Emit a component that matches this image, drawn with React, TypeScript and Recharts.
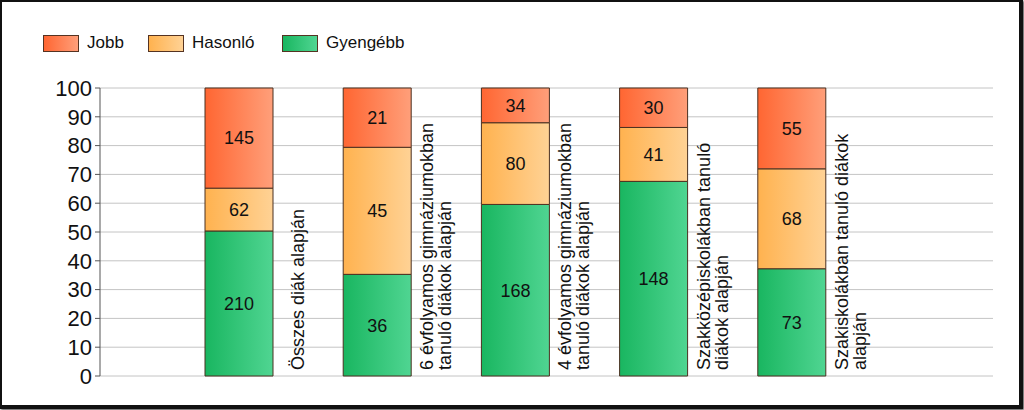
import { BarChart, Bar, XAxis, YAxis, CartesianGrid, LabelList } from 'recharts'

const categories = [
  ['Összes diák alapján'],
  ['6 évfolyamos gimnáziumokban', 'tanuló diákok alapján'],
  ['4 évfolyamos gimnáziumokban', 'tanuló diákok alapján'],
  ['Szakközépiskolákban tanuló', 'diákok alapján'],
  ['Szakiskolákban tanuló diákok', 'alapján'],
]
const jobb = [145, 21, 34, 30, 55]
const hasonlo = [62, 45, 80, 41, 68]
const gyengebb = [210, 36, 168, 148, 73]
const yTicks = [0, 10, 20, 30, 40, 50, 60, 70, 80, 90, 100]

const data = categories.map((lines, i) => {
  const total = jobb[i] + hasonlo[i] + gyengebb[i]
  return {
    name: lines.join(' '),
    lines,
    jobbN: jobb[i],
    hasonloN: hasonlo[i],
    gyengebbN: gyengebb[i],
    jobb: (jobb[i] / total) * 100,
    hasonlo: (hasonlo[i] / total) * 100,
    gyengebb: (gyengebb[i] / total) * 100,
  }
})

const series = [
  { key: 'jobb', label: 'Jobb', from: '#ff6632', to: '#ff9f7a' },
  { key: 'hasonlo', label: 'Hasonló', from: '#ffb24f', to: '#ffd295' },
  { key: 'gyengebb', label: 'Gyengébb', from: '#19b660', to: '#50d592' },
]

const font = '"Liberation Sans", Arial, sans-serif'

function CategoryLabel(props: any) {
  const { x, width, index } = props
  const lines: string[] = data[index].lines
  const cx = x + width / 2 + 59
  const lh = 18
  return (
    <g>
      {lines.map((l, i) => {
        const lx = cx + (i - (lines.length - 1) / 2) * lh
        return (
          <text key={i} x={lx} y={370} transform={`rotate(-90 ${lx} 370)`} textAnchor="start"
            dominantBaseline="central" fontSize={18} fill="#111" fontFamily={font}>
            {l}
          </text>
        )
      })}
    </g>
  )
}

function ChartLegend() {
  const pos = [43, 148, 282]
  return (
    <div style={{ position: 'absolute', left: 0, top: 33, height: 20, width: 400, zIndex: 1 }}>
      {series.map((s, i) => (
        <div key={s.key} style={{ position: 'absolute', left: pos[i], top: 0, display: 'flex', alignItems: 'center' }}>
          <div style={{ width: 34, height: 15, border: '1px solid #553322', background: `linear-gradient(to right, ${s.from}, ${s.to})` }} />
          <span style={{ marginLeft: 8, fontSize: 17, fontFamily: font, color: '#111' }}>{s.label}</span>
        </div>
      ))}
    </div>
  )
}

export default function App() {
  const stack = ['gyengebb', 'hasonlo', 'jobb']
  return (
    <div style={{ position: 'fixed', left: 0, top: 0, width: 1024, height: 410, background: '#fff' }}>
      <div style={{ position: 'absolute', left: 0, top: 0, width: 1017, height: 403, borderLeft: '2px solid #111', borderTop: '2px solid #111', borderRight: '4px solid #111', borderBottom: '4px solid #111', boxShadow: '1px 1px 2px #444', pointerEvents: 'none', zIndex: 2 }} />
      <ChartLegend />
      <BarChart width={1024} height={410} data={data} margin={{ top: 88, right: 31, bottom: 34, left: 0 }}>
        <defs>
          {series.map(s => (
            <linearGradient key={s.key} id={`g-${s.key}`} x1="0" y1="0" x2="1" y2="0">
              <stop offset="0%" stopColor={s.from} />
              <stop offset="100%" stopColor={s.to} />
            </linearGradient>
          ))}
        </defs>
        <CartesianGrid vertical={false} stroke="#c4c4c4" strokeWidth={1} />
        <XAxis dataKey="name" tick={false} height={0} padding={{ left: 70, right: 132 }} stroke="#555" tickLine={false} />
        <YAxis width={100} domain={[0, 100]} ticks={yTicks} interval={0} tickSize={5} tickMargin={3} stroke="#555"
          tick={{ fontSize: 22, fill: '#111', fontFamily: font }} />
        {stack.map(k => (
          <Bar key={k} dataKey={k} stackId="a" barSize={68} fill={`url(#g-${k})`} stroke="#4a3020" strokeWidth={1} isAnimationActive={false}>
            <LabelList dataKey={`${k}N`} position="center" fontSize={18} fill="#111" fontFamily={font} />
            {k === 'jobb' && <LabelList dataKey="name" content={<CategoryLabel />} />}
          </Bar>
        ))}
      </BarChart>
    </div>
  )
}
